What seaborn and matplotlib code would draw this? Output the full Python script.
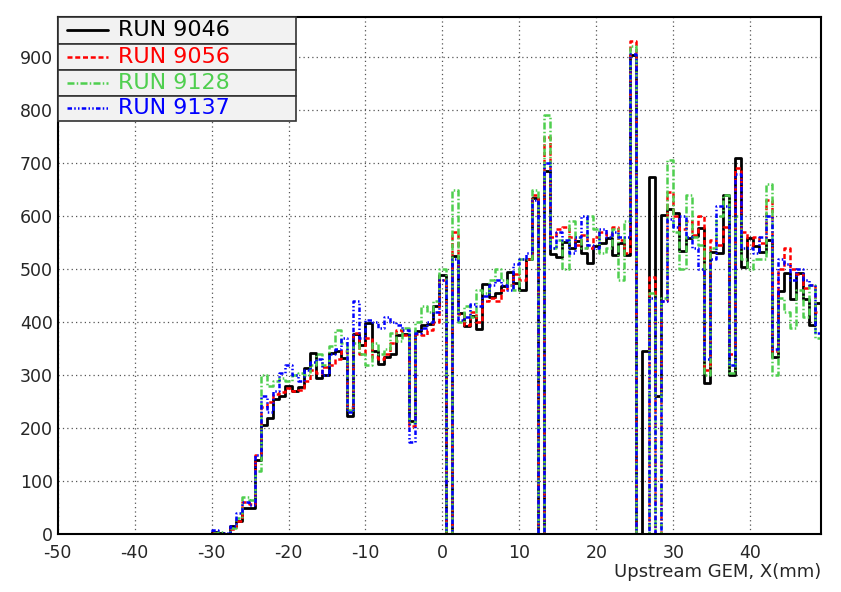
import numpy as np
import pandas as pd
import matplotlib
matplotlib.use("Agg")
import matplotlib.pyplot as plt
import seaborn as sns
from matplotlib.lines import Line2D
from matplotlib.patches import Rectangle
from matplotlib.ticker import MultipleLocator

# strip binning of the upstream GEM: 0.8 mm bins starting at -50 mm
x_lo = -50.0
bin_w = 0.8
n_bins = 124

runs = ["RUN 9046", "RUN 9056", "RUN 9128", "RUN 9137"]
colors = ["black", "#ff0000", "#4fcf4f", "#0000ff"]
styles = ["-", (0, (2.0, 1.1)), (0, (2.8, 0.9, 0.6, 0.9)), (0, (1.8, 0.9, 0.6, 0.9, 0.6, 0.9))]
widths = [2.0, 1.8, 1.8, 1.8]

# nothing hit below -30 mm
lead = [0, 0, 0, 0, 0, 0, 0, 0, 0, 0, 0, 0, 0, 0, 0, 0, 0, 0, 0, 0, 0, 0, 0, 0, 0]

run9046 = lead + [
    5, 2, 0, 15, 25, 50, 50, 140, 206, 219,
    256, 260, 280, 271, 277, 313, 341, 294, 301, 341,
    345, 332, 223, 378, 357, 399, 345, 322, 335, 340,
    375, 378, 214, 384, 395, 397, 430, 489, 0, 524,
    418, 392, 412, 387, 472, 448, 455, 468, 495, 474,
    460, 519, 634, 0, 686, 529, 523, 551, 540, 554,
    531, 511, 543, 549, 558, 527, 549, 527, 904, 0,
    346, 673, 260, 602, 614, 606, 535, 558, 562, 577,
    285, 533, 530, 640, 300, 709, 505, 558, 543, 533,
    555, 335, 459, 493, 443, 493, 443, 394, 436]

run9056 = lead + [
    3, 0, 0, 10, 25, 60, 58, 150, 240, 250,
    265, 268, 275, 270, 272, 290, 310, 305, 315, 320,
    330, 345, 240, 380, 340, 370, 335, 330, 340, 360,
    385, 375, 205, 378, 375, 385, 400, 480, 0, 570,
    415, 395, 420, 400, 440, 445, 440, 460, 470, 490,
    480, 520, 640, 0, 750, 560, 575, 580, 560, 545,
    565, 540, 560, 570, 565, 580, 555, 530, 930, 0,
    0, 485, 0, 440, 645, 600, 575, 590, 565, 600,
    310, 555, 545, 580, 340, 690, 570, 545, 560, 550,
    630, 345, 500, 540, 500, 490, 465, 470, 420]

run9128 = lead + [
    3, 5, 0, 12, 30, 70, 65, 120, 300, 280,
    290, 295, 290, 300, 305, 300, 320, 340, 320, 355,
    385, 360, 235, 360, 340, 320, 360, 340, 350, 380,
    365, 390, 210, 400, 430, 420, 440, 500, 0, 650,
    400, 430, 410, 460, 455, 480, 500, 480, 470, 460,
    520, 520, 650, 0, 790, 540, 555, 500, 590, 560,
    540, 600, 575, 530, 540, 575, 480, 590, 920, 0,
    0, 455, 0, 445, 705, 570, 500, 640, 560, 545,
    300, 540, 600, 640, 305, 600, 520, 500, 520, 520,
    660, 300, 445, 420, 390, 460, 410, 470, 370]

run9137 = lead + [
    8, 0, 3, 15, 40, 60, 55, 150, 260, 230,
    270, 305, 320, 300, 290, 310, 325, 330, 300, 340,
    350, 370, 230, 440, 370, 405, 400, 390, 410, 400,
    395, 385, 175, 380, 390, 400, 420, 480, 0, 520,
    405, 410, 435, 430, 450, 470, 480, 470, 460, 510,
    520, 530, 630, 0, 700, 540, 570, 555, 530, 560,
    600, 545, 540, 575, 560, 570, 560, 560, 905, 0,
    0, 445, 0, 440, 595, 580, 600, 560, 540, 500,
    330, 520, 620, 620, 320, 680, 540, 540, 530, 560,
    600, 350, 520, 510, 480, 500, 480, 470, 380]

counts = [run9046, run9056, run9128, run9137]

edges = x_lo + bin_w * np.arange(n_bins + 1)
centres = 0.5 * (edges[:-1] + edges[1:])
x_hi = float(edges[-1])

sns.set_style("white")
plt.rcParams["font.family"] = ["DejaVu Sans"]
plt.rcParams["axes.unicode_minus"] = False

W, H = 841, 592
fig = plt.figure(figsize=(W / 100, H / 100), dpi=100)
left, right, top, bottom = 57.7, 821.0, 17.3, 534.3
ax = fig.add_axes([left / W, 1 - bottom / H, (right - left) / W, (bottom - top) / H])

for c, col, ls, lw in zip(counts, colors, styles, widths):
    df = pd.DataFrame({"x": centres, "n": c})
    sns.histplot(data=df, x="x", weights="n", binwidth=bin_w, binrange=(x_lo, x_hi),
                 element="step", fill=False,
                 color=col, linestyle=ls, linewidth=lw, ax=ax)

ax.set_xlim(x_lo, x_hi)
ax.set_ylim(0, 975)
ax.set_ylabel("")
ax.set_xlabel("Upstream GEM, X(mm)", fontsize=13, loc="right")
ax.xaxis.set_label_coords(1.0, -0.055)
ax.xaxis.label.set_va("top")

ax.xaxis.set_major_locator(MultipleLocator(10))
ax.xaxis.set_minor_locator(MultipleLocator(2))
ax.yaxis.set_major_locator(MultipleLocator(100))
ax.yaxis.set_minor_locator(MultipleLocator(20))
ax.tick_params(axis="both", which="both", direction="in", top=False, right=False,
               labelsize=12.5, width=1.2, color="black")
ax.tick_params(axis="x", which="major", length=11, pad=7)
ax.tick_params(axis="x", which="minor", length=5.5)
ax.tick_params(axis="y", which="major", length=17, pad=3.5)
ax.tick_params(axis="y", which="minor", length=8.5)

ax.grid(True, which="major", linestyle=(0, (1, 2.5)), color="#555555", linewidth=0.9)
ax.set_axisbelow(True)
for sp in ax.spines.values():
    sp.set_visible(True)
    sp.set_color("black")
    sp.set_linewidth(1.5)

# ROOT style legend: one boxed row per run
rows = [1.0, 0.9493, 0.8987, 0.8484, 0.7995]
box_w = (296 - left) / (right - left)
for i, (name, col, ls, lw) in enumerate(zip(runs, colors, styles, widths)):
    y0, y1 = rows[i + 1], rows[i]
    ax.add_patch(Rectangle((0, y0), box_w, y1 - y0, transform=ax.transAxes,
                           facecolor="#f2f2f2", edgecolor="#333333", lw=1.2,
                           zorder=10, clip_on=False))
    yc = 0.5 * (y0 + y1)
    ax.add_line(Line2D([0.0121, 0.0659], [yc, yc], transform=ax.transAxes,
                       color=col, linestyle=ls, linewidth=lw, zorder=11))
    ax.text(0.079, yc, name, transform=ax.transAxes, color=col, fontsize=16,
            va="center", ha="left", zorder=12)

fig.savefig("out.png", dpi=100)
